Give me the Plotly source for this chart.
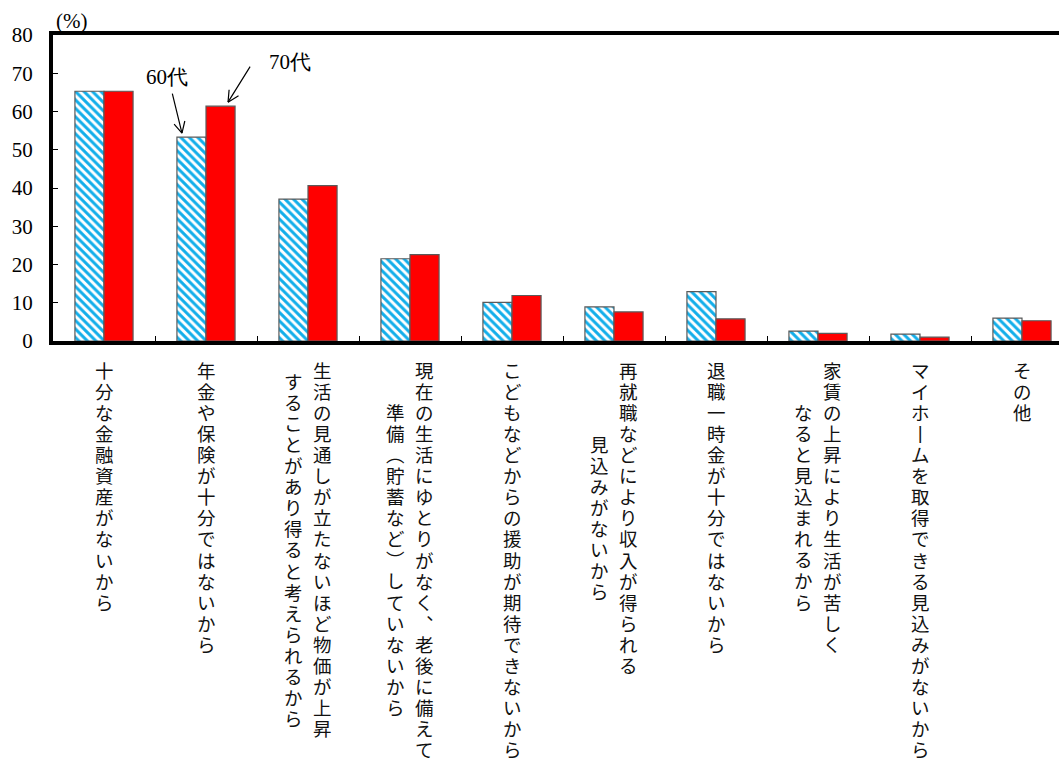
import math
import plotly.graph_objects as go

# Reasons (category labels), written horizontally; rendered as vertical columns.
# Each entry lists its columns from right to left.
categories = [
    ["十分な金融資産がないから"],
    ["年金や保険が十分ではないから"],
    ["生活の見通しが立たないほど物価が上昇", "することがあり得ると考えられるから"],
    ["現在の生活にゆとりがなく、老後に備えて", "準備（貯蓄など）していないから"],
    ["こどもなどからの援助が期待できないから"],
    ["再就職などにより収入が得られる", "見込みがないから"],
    ["退職一時金が十分ではないから"],
    ["家賃の上昇により生活が苦しく", "なると見込まれるから"],
    ["マイホームを取得できる見込みがないから"],
    ["その他"],
]

# Share of respondents (%)
age60 = [65.3, 53.3, 37.1, 21.5, 10.1, 8.9, 12.9, 2.6, 1.8, 6.0]
age70 = [65.3, 61.4, 40.6, 22.6, 11.9, 7.6, 5.8, 2.0, 1.0, 5.3]

y_ticks = [0, 10, 20, 30, 40, 50, 60, 70, 80]

series_names = ["60代", "70代"]

SERIF = "'Liberation Serif', 'DejaVu Serif', 'Times New Roman', serif"
JP = "Noto Sans CJK JP"

BARGAP = 0.43
bar_w = (1 - BARGAP) / 2
x_idx = list(range(len(categories)))

fig = go.Figure()
fig.add_trace(go.Bar(
    x=x_idx, y=age60, name=series_names[0],
    marker=dict(
        color="white",
        line=dict(color="#5a5a5a", width=1.2),
        pattern=dict(shape="\\", fgcolor="#12aeea", bgcolor="white",
                     size=6, solidity=0.5, fillmode="replace"),
    ),
))
fig.add_trace(go.Bar(
    x=x_idx, y=age70, name=series_names[1],
    marker=dict(color="#ff0000", line=dict(color="#5a5a5a", width=1.2)),
))

annotations = []

# Vertical (tategaki) category labels: one annotation per column, one glyph
# per line.  Line pitch comes from the base font size (1.3em = 21px), while
# each glyph is drawn a little larger through an inline span.
VERTICAL_FORMS = {"、": "︑", "。": "︒", "ー": "丨", "（": "︵", "）": "︶"}
BASE_SIZE = 16.2
GLYPH_SIZE = 18.5
PITCH = 1.3 * BASE_SIZE
COL_GAP = 29
TOP_GAP = 15      # distance from the x axis to the top of the first line
for i, cols in enumerate(categories):
    n_max = max(len(c) for c in cols)
    ncol = len(cols)
    for j, col in enumerate(cols):
        xs = ((ncol - 1) / 2 - j) * COL_GAP
        start = (n_max - len(col)) / 2
        glyphs = [VERTICAL_FORMS.get(ch, ch) for ch in col]
        text = "<br>".join(
            f'<span style="font-size:{GLYPH_SIZE}px">{g}</span>' for g in glyphs
        )
        annotations.append(dict(
            x=i, xref="x", y=0, yref="paper",
            xshift=xs, yshift=-(TOP_GAP + start * PITCH),
            text=text, showarrow=False, borderpad=0,
            xanchor="center", yanchor="top", align="center",
            font=dict(family=JP, size=BASE_SIZE, color="#111"),
        ))

# Unit label above the y axis
annotations.append(dict(
    x=0, xref="paper", y=1, yref="paper", xanchor="left", yanchor="bottom",
    xshift=1, yshift=0, text="(%)", showarrow=False,
    font=dict(family=SERIF, size=21, color="black"),
))


def open_arrow(x, y, head_dx, head_dy, tail_dx, tail_dy, label, text_dx, text_dy):
    """Callout line with an open V head pointing at (x, y)."""
    items = []
    base = dict(x=x, y=y, xref="x", yref="y", xshift=head_dx, yshift=head_dy,
                text="", showarrow=True, arrowhead=0, arrowwidth=1.2,
                arrowcolor="black", axref="pixel", ayref="pixel", standoff=0,
                startstandoff=0)
    items.append(dict(base, ax=tail_dx, ay=tail_dy))
    length = math.hypot(tail_dx, tail_dy)
    ux, uy = tail_dx / length, tail_dy / length
    for ang in (math.radians(27), math.radians(-27)):
        wx = (ux * math.cos(ang) - uy * math.sin(ang)) * 14
        wy = (ux * math.sin(ang) + uy * math.cos(ang)) * 14
        items.append(dict(base, ax=wx, ay=wy))
    items.append(dict(
        x=x, y=y, xref="x", yref="y", xshift=head_dx + text_dx,
        yshift=head_dy + text_dy, text=label, showarrow=False,
        xanchor="center", yanchor="middle",
        font=dict(family=SERIF, size=21, color="black"),
    ))
    return items


annotations += open_arrow(1 - bar_w / 2, age60[1], -9.5, 4, -10, -41,
                          series_names[0], -15, 56)
annotations += open_arrow(1 + bar_w / 2, age70[1], 7.5, 4, 23, -37,
                          series_names[1], 62, 40)

fig.update_layout(
    width=1059, height=763,
    margin=dict(l=53, r=0, t=35, b=422, pad=0),
    paper_bgcolor="white", plot_bgcolor="white",
    barmode="group", bargap=BARGAP, bargroupgap=0,
    showlegend=False,
    annotations=annotations,
    xaxis=dict(
        range=[-0.5, -0.5 + 1006 / 102],
        tickvals=[i + 0.5 for i in range(len(categories) - 1)],
        ticktext=[""] * (len(categories) - 1),
        ticks="inside", ticklen=5, tickwidth=1.2, tickcolor="black",
        showline=True, linewidth=4, linecolor="black", mirror=True,
        showgrid=False, zeroline=False, fixedrange=True,
    ),
    yaxis=dict(
        range=[0, 80], tickvals=y_ticks, ticktext=[str(v) for v in y_ticks],
        ticks="inside", ticklen=5, tickwidth=1.2, tickcolor="black",
        showline=True, linewidth=4, linecolor="black",
        showgrid=False, zeroline=False, fixedrange=True,
        tickfont=dict(family=SERIF, size=21, color="black"),
        ticklabelstandoff=12,
    ),
)

fig.write_html("out.html")
